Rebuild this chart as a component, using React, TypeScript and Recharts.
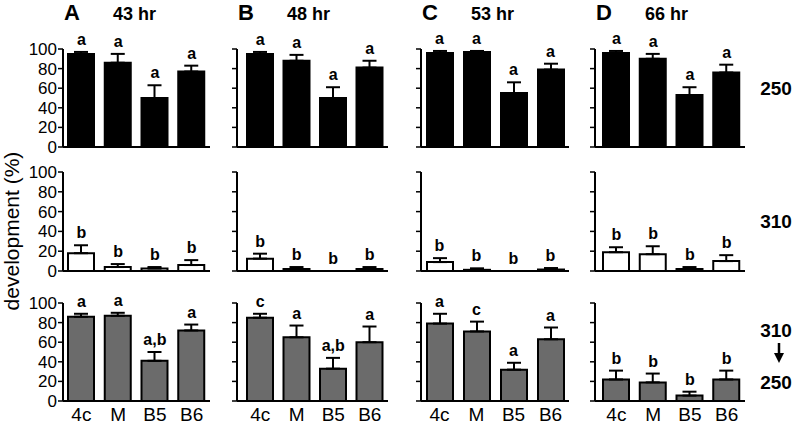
import React from 'react';
import { ComposedChart, Bar, Scatter, XAxis, YAxis, ErrorBar } from 'recharts';

const categories = ['4c', 'M', 'B5', 'B6'];
const panelLetters = ['A', 'B', 'C', 'D'];
const hours = ['43 hr', '48 hr', '53 hr', '66 hr'];
const yTicks = [0, 20, 40, 60, 80, 100];

// 250 (black bars)
const mean250 = [
    [95, 86, 50, 77],
    [95, 88, 50, 81],
    [96, 97, 55, 79],
    [96, 90, 53, 76],
];
const err250 = [
    [2, 9, 13, 6],
    [2, 6, 11, 7],
    [2, 1, 11, 6],
    [2, 5, 8, 8],
];
const sig250 = [
    ['a', 'a', 'a', 'a'],
    ['a', 'a', 'a', 'a'],
    ['a', 'a', 'a', 'a'],
    ['a', 'a', 'a', 'a'],
];

// 310 (white bars)
const mean310 = [
    [18, 4, 2.5, 6],
    [12.5, 2, 0, 2],
    [9, 1.2, 0, 1.5],
    [19, 17, 2, 10],
];
const err310 = [
    [8, 3, 1.5, 5],
    [5, 2, 0, 2],
    [4, 1.5, 0, 1.5],
    [5, 8, 2, 6],
];
const sig310 = [
    ['b', 'b', 'b', 'b'],
    ['b', 'b', 'b', 'b'],
    ['b', 'b', 'b', 'b'],
    ['b', 'b', 'b', 'b'],
];

// 310 -> 250 (grey bars)
const meanShift = [
    [86, 87, 41, 72],
    [85, 65, 33, 60],
    [79, 71, 32, 63],
    [22, 19, 5.5, 22],
];
const errShift = [
    [3, 3, 9, 6],
    [4, 12, 11, 16],
    [10, 10, 7, 12],
    [9, 9, 4, 9],
];
const sigShift = [
    ['a', 'a', 'a,b', 'a'],
    ['c', 'a', 'a,b', 'a'],
    ['a', 'c', 'a', 'a'],
    ['b', 'b', 'b', 'b'],
];

const FONT = '"Liberation Sans", Arial, Helvetica, sans-serif';

const colLeft = [63, 237, 421, 595];
const colWidth = [147, 151, 148, 150];
const colPad = [0, 5, 0, 3];
const rowTop = [49, 172, 303];
const rowHeight = [98, 99, 98];

const rows = [
    { means: mean250, errs: err250, sigs: sig250, fill: '#000000' },
    { means: mean310, errs: err310, sigs: sig310, fill: '#ffffff' },
    { means: meanShift, errs: errShift, sigs: sigShift, fill: '#6b6b6b' },
];

const TOP = 30;
const YW = 50;

// letter drawn just above the error bar cap
const SigMark = (props: any) => {
    const { cx, cy, payload } = props;
    return (
        <text x={cx} y={cy - 7} textAnchor="middle" fontFamily={FONT} fontWeight="bold" fontSize={16} fill="#000">
            {payload.sig}
        </text>
    );
};

function Panel({ row, col }: { row: number; col: number }) {
    const r = rows[row];
    const means = r.means[col];
    const errs = r.errs[col];
    const sigs = r.sigs[col];
    const data = categories.map((c, i) => ({
        name: c,
        value: means[i],
        err: [0, errs[i]],
        top: means[i] + errs[i],
        sig: sigs[i],
    }));
    const plotH = rowHeight[row];
    const bottomRow = row === 2;
    const xH = bottomRow ? 24 : 12;
    const w = YW + colWidth[col] + 4;
    const h = TOP + plotH + xH;

    return (
        <div style={{ position: 'absolute', left: colLeft[col] - YW, top: rowTop[row] - TOP, width: w, height: h }}>
            <ComposedChart width={w} height={h} data={data} margin={{ top: TOP, right: 4, bottom: 0, left: 0 }} barSize={26}>
                <XAxis
                    dataKey="name"
                    height={xH}
                    padding={{ left: colPad[col], right: 0 }}
                    axisLine={{ stroke: '#000', strokeWidth: 2 }}
                    tickLine={false}
                    tick={bottomRow ? { fill: '#000', fontSize: 19, fontFamily: FONT } : false}
                    tickMargin={1}
                    interval={0}
                />
                <YAxis
                    width={YW}
                    domain={[0, 100]}
                    ticks={yTicks}
                    interval={0}
                    axisLine={{ stroke: '#000', strokeWidth: 2 }}
                    tickLine={{ stroke: '#000', strokeWidth: 1.5 }}
                    tickSize={5}
                    tickMargin={1}
                    tick={{ fill: '#000', fontSize: 17, fontFamily: FONT }}
                    tickFormatter={(v: number) => (col === 0 ? String(v) : '')}
                />
                <Bar dataKey="value" fill={r.fill} stroke="#000" strokeWidth={2} isAnimationActive={false}>
                    <ErrorBar dataKey="err" width={7} stroke="#000" strokeWidth={2} direction="y" />
                </Bar>
                <Scatter dataKey="top" shape={SigMark} isAnimationActive={false} />
            </ComposedChart>
        </div>
    );
}

export default function App() {
    return (
        <div style={{ position: 'absolute', left: 0, top: 0, width: 798, height: 425, background: '#fff', fontFamily: FONT }}>
            {rows.map((_, ri) =>
                panelLetters.map((_, ci) => <Panel key={`${ri}-${ci}`} row={ri} col={ci} />)
            )}
            <svg width={798} height={425} style={{ position: 'absolute', left: 0, top: 0, pointerEvents: 'none' }}>
                {panelLetters.map((p, i) => (
                    <g key={p}>
                        <text x={colLeft[i] + 1} y={20} fontFamily={FONT} fontWeight="bold" fontSize={22}>
                            {p}
                        </text>
                        <text x={colLeft[i] + 50} y={20} fontFamily={FONT} fontWeight="bold" fontSize={18}>
                            {hours[i]}
                        </text>
                    </g>
                ))}
                <text
                    x={19}
                    y={231}
                    transform="rotate(-90 19 231)"
                    textAnchor="middle"
                    fontFamily={FONT}
                    fontSize={21}
                >
                    development (%)
                </text>
                <text x={776} y={95} textAnchor="middle" fontFamily={FONT} fontWeight="bold" fontSize={19}>250</text>
                <text x={776} y={228} textAnchor="middle" fontFamily={FONT} fontWeight="bold" fontSize={19}>310</text>
                <text x={776} y={337} textAnchor="middle" fontFamily={FONT} fontWeight="bold" fontSize={19}>310</text>
                <line x1={779} y1={343} x2={779} y2={355} stroke="#000" strokeWidth={2.5} />
                <polygon points="774,353 784,353 779,363" fill="#000" />
                <text x={776} y={389} textAnchor="middle" fontFamily={FONT} fontWeight="bold" fontSize={19}>250</text>
            </svg>
        </div>
    );
}
